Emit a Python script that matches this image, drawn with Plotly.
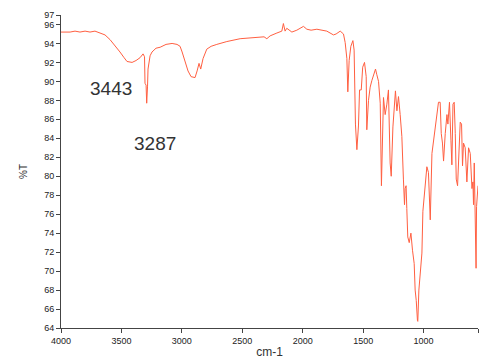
import plotly.graph_objects as go

# Spectrum: wavenumber (cm-1) and transmittance (%T)
wavenumber = [4000, 3925, 3884, 3843, 3801, 3760, 3719, 3677, 3636, 3594, 3553, 3512, 3478, 3454, 3412,
              3379, 3346, 3321, 3309, 3305, 3296, 3291, 3284, 3280, 3263, 3247, 3214, 3180, 3131, 3081,
              3040, 3015, 2998, 2974, 2949, 2924, 2891, 2874, 2858, 2844, 2825, 2794, 2758, 2711, 2628,
              2518, 2435, 2353, 2320, 2297, 2270, 2214, 2173, 2160, 2150, 2146, 2132, 2090, 2049, 1994,
              1966, 1931, 1883, 1839, 1801, 1746, 1724, 1690, 1663, 1649, 1635, 1627, 1616, 1602, 1585,
              1575, 1564, 1552, 1539, 1530, 1516, 1504, 1489, 1475, 1470, 1456, 1442, 1428, 1415, 1398,
              1387, 1373, 1359, 1349, 1332, 1318, 1304, 1291, 1277, 1268, 1254, 1243, 1233, 1221, 1208,
              1194, 1180, 1167, 1158, 1153, 1145, 1139, 1131, 1119, 1105, 1092, 1078, 1070, 1061, 1051,
              1048, 1039, 1028, 1014, 1006, 993, 973, 960, 945, 931, 918, 904, 890, 877, 863,
              854, 844, 835, 821, 807, 799, 786, 774, 766, 757, 747, 738, 730, 719, 708,
              697, 686, 678, 670, 656, 642, 628, 614, 600, 592, 587, 581, 573, 569, 566,
              562, 554, 550]
transmittance = [95.2, 95.2, 95.3, 95.2, 95.3, 95.2, 95.3, 95.1, 94.9, 94.4, 93.8, 93.1, 92.5, 92.1, 92.0,
                 92.2, 92.5, 92.9, 92.6, 89.8, 89.6, 87.7, 89.5, 91.3, 92.7, 93.1, 93.5, 93.6, 93.9, 94.0,
                 93.9, 93.7, 93.1, 92.1, 91.1, 90.5, 90.4, 91.1, 91.9, 91.3, 92.4, 93.4, 93.7, 93.9, 94.2,
                 94.5, 94.6, 94.7, 94.7, 94.5, 94.8, 95.1, 95.3, 96.1, 95.4, 95.3, 95.6, 95.2, 95.4, 95.8,
                 95.5, 95.4, 95.5, 95.4, 95.3, 94.9, 95.0, 95.3, 95.0, 94.1, 92.4, 88.9, 92.2, 93.7, 94.3,
                 93.3, 85.5, 82.8, 85.3, 89.1, 89.1, 91.5, 92.0, 90.5, 84.9, 88.0, 89.4, 90.1, 90.7, 91.3,
                 90.7, 90.0, 87.7, 79.0, 88.3, 86.5, 87.6, 89.1, 81.4, 80.0, 85.2, 87.6, 89.0, 86.9, 88.4,
                 86.5, 84.2, 79.7, 77.0, 78.7, 79.0, 76.6, 73.6, 73.0, 74.0, 72.2, 70.8, 68.0, 66.9, 64.8,
                 64.7, 68.0, 70.1, 71.9, 76.3, 78.5, 81.0, 80.4, 75.4, 82.4, 83.8, 85.5, 86.7, 87.8, 87.8,
                 84.5, 83.5, 81.6, 84.5, 86.5, 85.5, 87.8, 83.8, 81.2, 87.6, 87.8, 84.5, 79.7, 79.0, 82.1,
                 85.7, 85.5, 81.1, 83.5, 83.0, 79.4, 83.0, 82.4, 78.7, 79.4, 77.0, 81.4, 75.2, 71.6, 70.3,
                 76.8, 78.8, 79.0]

x_ticks = [4000, 3500, 3000, 2500, 2000, 1500, 1000, 550]
y_ticks = [64, 66, 68, 70, 72, 74, 76, 78, 80, 82, 84, 86, 88, 90, 92, 94, 96, 97]

peak_labels = ["3443", "3287"]
peak_label_x = [3590, 3222]
peak_label_y = [89.2, 83.5]

fig = go.Figure()
fig.add_trace(go.Scatter(x=wavenumber, y=transmittance, mode="lines",
                         line=dict(color="rgb(255,95,65)", width=1), showlegend=False,
                         hoverinfo="skip"))

for t, xv, yv in zip(peak_labels, peak_label_x, peak_label_y):
    fig.add_annotation(x=xv, y=yv, xref="x", yref="y", text=t, showarrow=False,
                       font=dict(family="Liberation Sans, Arial", size=19, color="#333333"))

tick_font = dict(family="Liberation Sans Narrow, Liberation Sans, Arial", size=9, color="#222222")
fig.update_layout(
    width=484, height=362,
    margin=dict(l=61, r=6, t=15, b=26),
    paper_bgcolor="white", plot_bgcolor="white",
    xaxis=dict(range=[4000, 550], tickvals=x_ticks, ticktext=[str(v) for v in x_ticks],
               showgrid=False, zeroline=False, showline=True, linecolor="#444444", linewidth=1,
               ticks="outside", ticklen=4, tickcolor="#444444", tickfont=tick_font,
               title=dict(text="cm-1", font=dict(family="Liberation Sans, Arial", size=12, color="#333333"),
                          standoff=2)),
    yaxis=dict(range=[64, 97], tickvals=y_ticks, ticktext=[str(v) for v in y_ticks],
               showgrid=False, zeroline=False, showline=True, linecolor="#444444", linewidth=1,
               ticks="outside", ticklen=4, tickcolor="#444444", tickfont=tick_font,
               title=dict(text="%T", font=dict(family="Liberation Sans, Arial", size=10, color="#333333"),
                          standoff=14)),
)

fig.write_html("out.html")
